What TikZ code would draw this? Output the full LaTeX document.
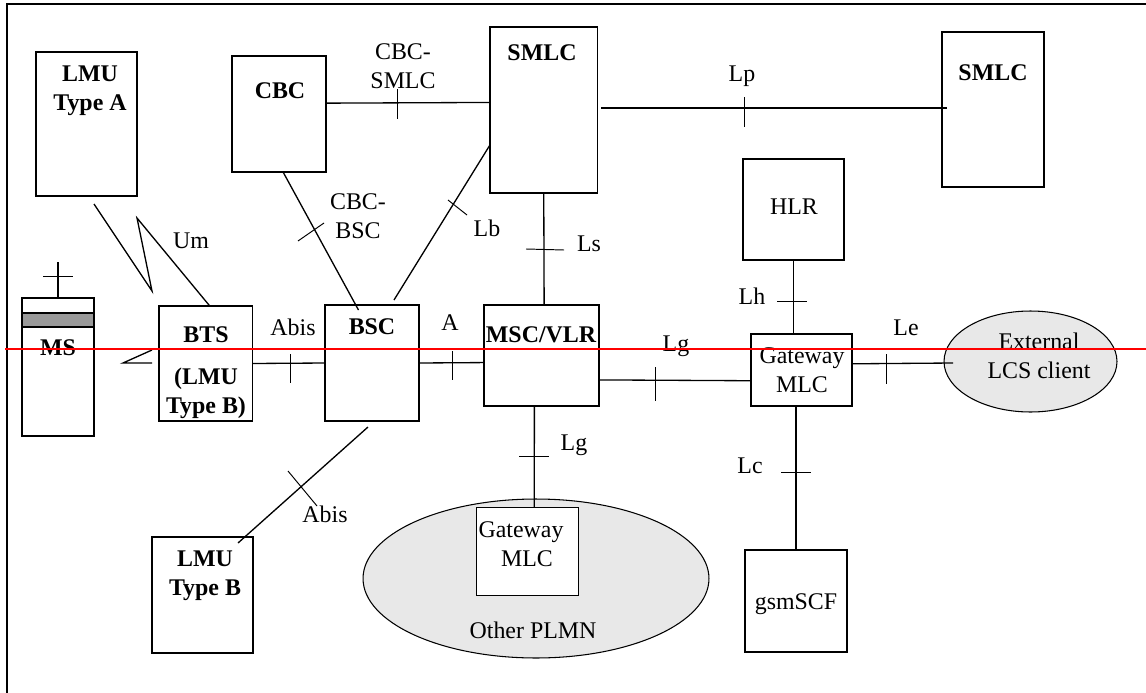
\documentclass[tikz,border=0pt]{standalone}
\usepackage{fontspec}
\setmainfont{Liberation Serif}
\usetikzlibrary{shapes.geometric}

\tikzset{
    blockbox/.style={draw, fill=white, line width=0.8pt, inner sep=0pt, outer sep=0pt},
    thinbox/.style={blockbox, line width=0.4pt},
    cloudshape/.style={draw, ellipse, fill=gray!18, line width=0.6pt, inner sep=0pt, outer sep=0pt},
    linktext/.style={inner sep=0pt, align=center, font=\fontsize{13.6}{16.4}\selectfont},
    boldtext/.style={linktext, font=\fontsize{13.6}{16.4}\selectfont\bfseries},
    linkline/.style={line width=0.75pt},
    tickline/.style={line width=0.55pt}
}

\begin{document}
\begin{tikzpicture}[x=0.02cm, y=-0.02cm]
    \useasboundingbox (0,0) rectangle (1146,693);

    % Outer frame, only two sides show
    \coordinate (framebl) at (7,693);
    \coordinate (frametl) at (7,4);
    \coordinate (frametr) at (1146,4);
    \draw[line width=1pt] (framebl) -- (frametl) -- (frametr);

    % Draw boxes
    \node[blockbox, minimum width=2.02cm, minimum height=2.88cm] (lmua) at (86.5,124) {};
    \node[blockbox, minimum width=1.88cm, minimum height=2.32cm] (cbc) at (279,114) {};
    \node[blockbox, minimum width=2.15cm, minimum height=3.32cm] (smlca) at (543.75,110) {};
    \node[blockbox, minimum width=2.04cm, minimum height=3.10cm] (smlcb) at (993,109.5) {};
    \node[blockbox, minimum width=2.02cm, minimum height=2.02cm] (hlr) at (793.5,209.5) {};
    \node[blockbox, minimum width=1.44cm, minimum height=2.76cm] (ms) at (58,367) {};
    \node[blockbox, minimum width=1.44cm, minimum height=0.28cm, fill=gray!80] (msband) at (58,320) {};
    \node[blockbox, minimum width=1.87cm, minimum height=2.30cm] (bts) at (205.75,363.5) {};
    \node[blockbox, minimum width=1.88cm, minimum height=2.32cm] (bsc) at (372,363) {};
    \node[blockbox, minimum width=2.30cm, minimum height=2.02cm] (msc) at (541.5,355.5) {};
    \node[blockbox, minimum width=2.02cm, minimum height=1.44cm] (gwa) at (801.5,370) {};
    \node[blockbox, minimum width=2.04cm, minimum height=2.04cm] (gsm) at (796,601) {};
    \node[blockbox, minimum width=2.02cm, minimum height=2.32cm] (lmub) at (202.5,595) {};

    % Draw ellipses
    \node[cloudshape, minimum width=3.46cm, minimum height=2.02cm] (ext) at (1030.5,361.5) {};
    \node[cloudshape, minimum width=6.92cm, minimum height=3.18cm] (plmn) at (536,578.5) {};
    \node[thinbox, minimum width=2.03cm, minimum height=1.76cm] (gwb) at (527.25,551) {};

    % Free ends of links
    \coordinate (lpstart) at (601,108);
    \coordinate (lpend) at (947,108);
    \coordinate (lbend) at (394,300);
    \coordinate (cbcbscend) at (358.5,310);
    \coordinate (umone) at (94,204);
    \coordinate (umtwo) at (152,291);
    \coordinate (umthree) at (137,218);
    \coordinate (msone) at (152,350);
    \coordinate (mstwo) at (123,363);
    \coordinate (msthree) at (152,363);
    \coordinate (mstop) at (58,262);
    \coordinate (abisone) at (368,427);
    \coordinate (abistwo) at (238,543);
    \coordinate (extin) at (953,363);

    % Draw links
    \draw[linkline] (cbc.13.75) -- (smlca.172.6);
    \draw[linkline] (lpstart) -- (lpend);
    \draw[linkline] (smlca.213) -- (lbend);
    \draw[linkline] (cbc.-86) -- (cbcbscend);
    \draw[linkline] (smlca.-90.9) -- (msc.87.2);
    \draw[linkline] (umone) -- (umtwo) -- (umthree) -- (bts.86.8);
    \draw[linkline] (msone) -- (mstwo) -- (msthree);
    \draw[linkline] (ms.north) -- (mstop);
    \draw[linkline] (bts.east) -- (bsc.west);
    \draw[linkline] (bsc.east) -- (msc.187.4);
    \draw[linkline] (msc.-23.9) -- (gwa.192.3);
    \draw[linkline] (hlr.south) -- (hlr.south |- gwa.north);
    \draw[linkline] (gwa.7.9) -- (extin);
    \draw[linkline] (gsm.north) -- (gsm.north |- gwa.south);
    \draw[linkline] (msc.-98.45) -- (gwb.81.3);
    \draw[linkline] (abisone) -- (abistwo);

    % Add ticks across the links
    \foreach \xa/\ya/\xb/\yb in {397/89/397/119, 744/97/744/127, 448/200/467/215, 298/241/324/223,
        526/249/564/250, 43/276/73/276, 290/354/290/383, 452/351/452/380, 655/367/655/401,
        777/301/807/301, 886/354/886/384, 781/472/811/472, 519/456/549/456, 288/471/317/506}
        \draw[tickline] (\xa,\ya) -- (\xb,\yb);

    % Text in boxes
    \node[boldtext] (lmuatext) at (90,90.5) {LMU\\Type A};
    \node[boldtext] (cbctext) at (280,90.5) {CBC};
    \node[boldtext] (smlcatext) at (542,52.5) {SMLC};
    \node[boldtext] (smlcbtext) at (993,72.5) {SMLC};
    \node[linktext] (hlrtext) at (794,206.5) {HLR};
    \node[boldtext] (mstext) at (58,348) {MS};
    \node[boldtext] (btstext) at (206,335) {BTS};
    \node[boldtext] (btslmu) at (206,393) {(LMU\\Type B)};
    \node[boldtext] (bsctext) at (372,326.5) {BSC};
    \node[boldtext] (msctext) at (541,335) {MSC/VLR};
    \node[linktext] (gwatext) at (802,370) {Gateway\\MLC};
    \node[linktext] (exttext) at (1039,355.5) {External\\LCS client};
    \node[linktext] (gsmtext) at (796,604) {gsmSCF};
    \node[boldtext] (lmubtext) at (205,575.5) {LMU\\Type B};
    \node[linktext] (gwbtop) at (521,532) {Gateway};
    \node[linktext] (gwbbot) at (527,559) {MLC};
    \node[linktext] (plmntext) at (533,630) {Other PLMN};

    % Text on links
    \node[linktext] (cbcsmlc) at (403,66) {CBC-\\SMLC};
    \node[linktext] (cbcbsc) at (358,216) {CBC-\\BSC};
    \node[linktext] (lptext) at (742,76) {Lp};
    \node[linktext] (lbtext) at (487,228.5) {Lb};
    \node[linktext] (lstext) at (589,243.5) {Ls};
    \node[linktext] (umtext) at (191,240.5) {Um};
    \node[linktext] (abistext) at (293,327.5) {Abis};
    \node[linktext] (atext) at (450,323) {A};
    \node[linktext] (lgtext) at (676,346) {Lg};
    \node[linktext] (lhtext) at (752,296.5) {Lh};
    \node[linktext] (letext) at (906,327.5) {Le};
    \node[linktext] (lctext) at (750,465.5) {Lc};
    \node[linktext] (lgbtext) at (574,445) {Lg};
    \node[linktext] (abisbtext) at (325,514.5) {Abis};

    % Red line over everything
    \coordinate (redleft) at (5,349);
    \coordinate (redright) at (1146,349);
    \draw[red, line width=0.85pt] (redleft) -- (redright);
\end{tikzpicture}
\end{document}
